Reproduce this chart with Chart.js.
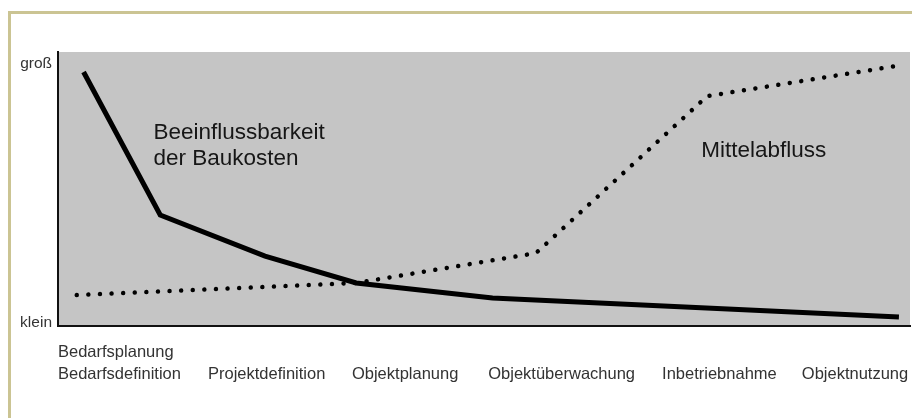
<!DOCTYPE html>
<html>
<head>
<meta charset="utf-8">
<script src="https://cdn.jsdelivr.net/npm/chart.js@4.4.0/dist/chart.umd.min.js"></script>
<style>
  html, body { margin: 0; padding: 0; background: #fff; }
  #wrap { position: relative; width: 912px; height: 418px; }
  #frame {
    position: absolute; left: 8px; top: 11px; right: -10px; bottom: -10px;
    border-top: 3px solid #cbc493; border-left: 3px solid #cbc493;
    pointer-events: none;
  }
</style>
</head>
<body>
<div id="wrap">
  <canvas id="chart"></canvas>
  <div id="frame"></div>
</div>
<script>
// zeit (0..100 über alle Phasen), wert (0 = klein, 100 = groß)
var phaseLabels = [
    ['Bedarfsplanung', 'Bedarfsdefinition'],
    ['', 'Projektdefinition'],
    ['', 'Objektplanung'],
    ['', 'Objektüberwachung'],
    ['', 'Inbetriebnahme'],
    ['', 'Objektnutzung']
];
var phaseStart = [0, 17.6, 34.5, 50.5, 70.9, 87.3];

var yLabels = ['klein', 'groß'];
var yLabelPos = [1.1, 95.6];

var kostenX = [3, 12, 24.3, 35, 51, 98.7];
var kostenY = [92.7, 40.5, 25.5, 15.7, 10.2, 3.3];

var abflussX = [2.2, 35, 56.1, 76.2, 99.2];
var abflussY = [11.3, 15.7, 26.6, 83.9, 95.3];

// beschriftungen im diagramm
var notes = [
    { text: 'Beeinflussbarkeit', x: 11.2, y: 68.2 },
    { text: 'der Baukosten', x: 11.2, y: 58.8 },
    { text: 'Mittelabfluss', x: 75.5, y: 61.7 }
];

function toPoints(xs, ys) {
    return xs.map(function (x, i) { return { x: x, y: ys[i] }; });
}

var bgPlugin = {
    id: 'plotBg',
    beforeDraw: function (chart) {
        var a = chart.chartArea, ctx = chart.ctx;
        ctx.save();
        ctx.fillStyle = '#c5c5c5';
        ctx.fillRect(a.left, a.top, a.right - a.left, a.bottom - a.top);
        ctx.restore();
    }
};

var notePlugin = {
    id: 'notes',
    afterDatasetsDraw: function (chart) {
        var ctx = chart.ctx, sx = chart.scales.x, sy = chart.scales.y;
        ctx.save();
        ctx.font = '22.5px "Liberation Sans", Arial, sans-serif';
        ctx.fillStyle = '#161616';
        ctx.textAlign = 'left';
        ctx.textBaseline = 'alphabetic';
        notes.forEach(function (n) {
            ctx.fillText(n.text, sx.getPixelForValue(n.x), sy.getPixelForValue(n.y));
        });
        ctx.restore();
    }
};

var labelFont = { family: '"Liberation Sans", Arial, sans-serif', size: 16.5, lineHeight: 1.32 };

var chart = new Chart(document.getElementById('chart').getContext('2d'), {
    type: 'line',
    data: {
        datasets: [{
            label: 'Beeinflussbarkeit der Baukosten',
            data: toPoints(kostenX, kostenY),
            borderColor: '#000',
            borderWidth: 5,
            borderCapStyle: 'butt',
            borderJoinStyle: 'miter',
            pointRadius: 0,
            fill: false,
            tension: 0
        }, {
            label: 'Mittelabfluss',
            data: toPoints(abflussX, abflussY),
            borderColor: '#000',
            borderWidth: 4.5,
            borderCapStyle: 'round',
            borderDash: [0.01, 11.6],
            pointRadius: 0,
            fill: false,
            tension: 0
        }]
    },
    options: {
        responsive: true,
        maintainAspectRatio: false,
        animation: false,
        layout: { padding: { top: 52, right: 2, left: 0, bottom: 0 } },
        plugins: {
            legend: { display: false },
            tooltip: { enabled: false }
        },
        scales: {
            x: {
                type: 'linear',
                min: 0,
                max: 100,
                afterBuildTicks: function (s) {
                    s.ticks = phaseStart.map(function (v) { return { value: v }; });
                },
                afterFit: function (s) {
                    s.height = 92;
                    s.paddingLeft = 0;
                    s.paddingRight = 0;
                },
                ticks: {
                    align: 'start',
                    padding: 16,
                    color: '#333',
                    font: labelFont,
                    maxRotation: 0,
                    autoSkip: false,
                    callback: function (v, i) { return phaseLabels[i]; }
                },
                grid: { display: false, drawTicks: false },
                border: { display: true, color: '#111', width: 2 }
            },
            y: {
                type: 'linear',
                min: 0,
                max: 100,
                afterBuildTicks: function (s) {
                    s.ticks = yLabelPos.map(function (v) { return { value: v }; });
                },
                afterFit: function (s) {
                    s.width = 58;
                    s.paddingTop = 0;
                    s.paddingBottom = 0;
                },
                ticks: {
                    padding: 6,
                    color: '#333',
                    font: { family: '"Liberation Sans", Arial, sans-serif', size: 15.5 },
                    autoSkip: false,
                    callback: function (v, i) { return yLabels[i]; }
                },
                grid: { display: false, drawTicks: false },
                border: { display: true, color: '#111', width: 2 }
            }
        }
    },
    plugins: [bgPlugin, notePlugin]
});
</script>
</body>
</html>
